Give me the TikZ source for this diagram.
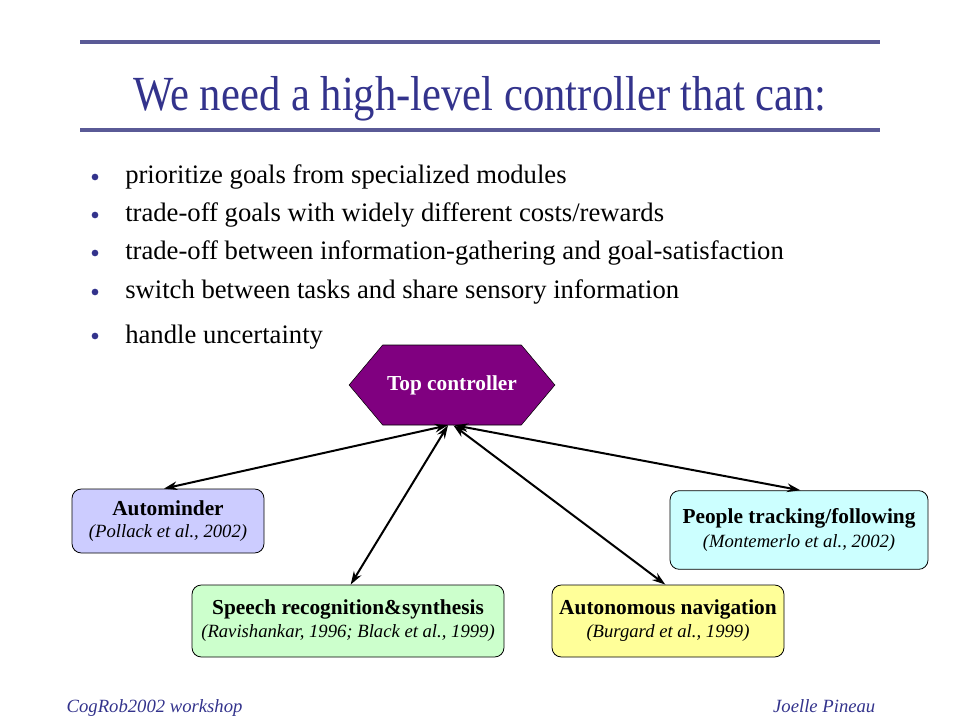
\documentclass[tikz,border=0pt]{standalone}
\usepackage{fontspec}
\setmainfont{Liberation Serif}
\usetikzlibrary{arrows.meta,shapes.symbols}
\definecolor{slideblue}{RGB}{51,51,140}
\definecolor{rulelblue}{RGB}{90,90,150}
\definecolor{ctlpurple}{RGB}{128,0,128}
\definecolor{boxlav}{RGB}{204,204,255}
\definecolor{boxcyan}{RGB}{204,255,255}
\definecolor{boxgreen}{RGB}{204,255,204}
\definecolor{boxyellow}{RGB}{255,255,153}

\begin{document}
\begin{tikzpicture}[x=0.75pt, y=-0.75pt,
  bullet/.style={anchor=base west, inner sep=0pt, font=\fontsize{20}{24}\selectfont},
  dot/.style={circle, fill=slideblue, inner sep=0pt, minimum size=5pt},
  module/.style={draw=black, line width=0.6pt, rounded corners=7pt, align=center, inner sep=0pt},
  link/.style={line width=1.5pt, {Stealth[length=10pt,width=6.5pt]}-{Stealth[length=10pt,width=6.5pt]}}]
  \useasboundingbox (0,0) rectangle (960,720);

  \draw[rulelblue, line width=3pt] (80,42) -- (880,42);
  \draw[rulelblue, line width=3pt] (80,130) -- (880,130);
  \node[text=slideblue, font=\fontsize{32}{36}\selectfont, anchor=base, inner sep=0pt] (title) at (480,111)
    {\scalebox{1}[1.15]{We need a high-level controller that can:}};

  \node[dot] (b1) at (95,177) {};
  \node[bullet] (t1) at (125,184) {prioritize goals from specialized modules};
  \node[dot] (b2) at (95,215) {};
  \node[bullet] (t2) at (125,222) {trade-off goals with widely different costs/rewards};
  \node[dot] (b3) at (95,253) {};
  \node[bullet] (t3) at (125,260) {trade-off between information-gathering and goal-satisfaction};
  \node[dot] (b4) at (95,292) {};
  \node[bullet] (t4) at (125,299) {switch between tasks and share sensory information};
  \node[dot] (b5) at (95,336) {};
  \node[bullet] (t5) at (125,343) {handle uncertainty};

  \node[signal, signal to=west and east, signal pointer angle=100, draw=black, fill=ctlpurple,
    minimum width=150pt, minimum height=60pt, text=white, font=\fontsize{16}{18}\bfseries] (ctl) at (452,385) {Top controller};

  \node[module, fill=boxlav, minimum width=144pt, minimum height=48pt] (autom) at (168,521)
    {\fontsize{16}{18}\bfseries Autominder\\[4pt]\fontsize{14}{16}\itshape (Pollack et al., 2002)};
  \node[module, fill=boxcyan, minimum width=193.5pt, minimum height=59pt] (people) at (799,530)
    {\fontsize{16}{18}\bfseries People tracking/following\\[4pt]\fontsize{14}{16}\itshape (Montemerlo et al., 2002)};
  \node[module, fill=boxgreen, minimum width=234pt, minimum height=54pt] (speech) at (348,621)
    {\fontsize{16}{18}\bfseries Speech recognition\&synthesis\\[3pt]\fontsize{14}{16}\itshape (Ravishankar, 1996; Black et al., 1999)};
  \node[module, fill=boxyellow, minimum width=174pt, minimum height=54pt] (nav) at (668,621)
    {\fontsize{16}{18}\bfseries Autonomous navigation\\[3pt]\fontsize{14}{16}\itshape (Burgard et al., 1999)};

  \draw[link] ([xshift=-3pt]ctl.south) -- ([xshift=-3pt]autom.north);
  \draw[link] ([xshift=-3pt]ctl.south) -- ([xshift=2pt]speech.north);
  \draw[link] ([xshift=1pt]ctl.south) -- ([xshift=-2pt]nav.north);
  \draw[link] ([xshift=2pt]ctl.south) -- ([xshift=1pt]people.north);

  \node[anchor=base west, text=slideblue, font=\fontsize{14}{16}\itshape] (venue) at (62,712) {CogRob2002 workshop};
  \node[anchor=base east, text=slideblue, font=\fontsize{14}{16}\itshape] (author) at (880,712) {Joelle Pineau};
\end{tikzpicture}
\end{document}
